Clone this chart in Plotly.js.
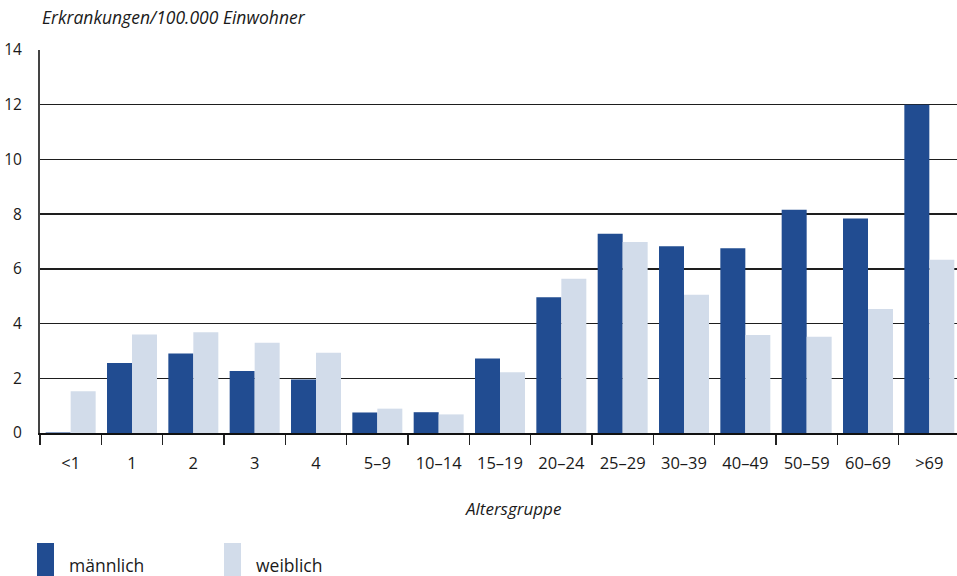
<!DOCTYPE html>
<html>
<head>
<meta charset="utf-8">
<script src="https://cdn.plot.ly/plotly-3.0.1.min.js"></script>
<style>
html,body{margin:0;padding:0;overflow:hidden;background:#fff;}
#chart{width:960px;height:576px;}
</style>
</head>
<body>
<div id="chart"></div>
<script>
const categories = ["<1","1","2","3","4","5–9","10–14","15–19","20–24","25–29","30–39","40–49","50–59","60–69",">69"];
const maennlich = [0.02,2.56,2.91,2.27,1.96,0.75,0.76,2.72,4.96,7.28,6.83,6.75,8.16,7.84,12.0];
const weiblich  = [1.53,3.60,3.68,3.30,2.93,0.89,0.68,2.22,5.64,6.98,5.05,3.58,3.52,4.53,6.33];
const yTicks = [0,2,4,6,8,10,12,14];
const seriesNames = ["männlich","weiblich"];
const colors = ["#214C91","#D2DCEA"];
const yTitle = "Erkrankungen/100.000 Einwohner";
const xTitle = "Altersgruppe";

const W = 960, H = 576, ML = 40, MR = 0, MT = 50, MB = 143;
const PW = W - ML - MR, PH = H - MT - MB;
const px = x => (x - ML) / PW;
const py = y => (H - MB - y) / PH;

const FONT = "Open Sans, DejaVu Sans, sans-serif";
const TXT = "#1a1a1a";

const traces = [
  {type:"bar", name:seriesNames[0], x:categories, y:maennlich, marker:{color:colors[0]}, hoverinfo:"skip"},
  {type:"bar", name:seriesNames[1], x:categories, y:weiblich, marker:{color:colors[1]}, hoverinfo:"skip"}
];

const layout = {
  width: W, height: H,
  margin: {l:ML, r:MR, t:MT, b:MB, pad:0},
  paper_bgcolor:"#fff", plot_bgcolor:"#fff",
  barmode:"group", bargap:0.185, bargroupgap:0,
  showlegend:false,
  font:{family:FONT, color:TXT, size:15},
  xaxis:{
    type:"category", tickson:"boundaries", ticks:"outside", ticklen:10, tickwidth:1.5, tickcolor:"#222",
    showline:true, linecolor:"#111", linewidth:2, showgrid:false, zeroline:false,
    tickfont:{family:FONT, size:16.5, color:TXT}, ticklabelstandoff:14,
    range:[-0.5, 14.5]
  },
  yaxis:{
    range:[0,14], tickvals:yTicks, ticktext:yTicks.map(String), ticks:"",
    showgrid:true, gridcolor:"#1e1e1e", gridwidth:1.4,
    showline:true, linecolor:"#444", linewidth:2, zeroline:false,
    tickfont:{family:FONT, size:15.5, color:TXT}, ticklabelstandoff:13
  },
  annotations:[
    {xref:"paper", yref:"paper", x:px(40), y:py(17), xanchor:"left", yanchor:"middle", text:"<i>"+yTitle+"</i>", showarrow:false, font:{family:FONT, size:17.5, color:TXT}},
    {xref:"paper", yref:"paper", x:px(513), y:py(508), xanchor:"center", yanchor:"middle", text:"<i>"+xTitle+"</i>", showarrow:false, font:{family:FONT, size:17, color:TXT}},
    {xref:"paper", yref:"paper", x:px(67), y:py(565), xanchor:"left", yanchor:"middle", text:seriesNames[0], showarrow:false, font:{family:FONT, size:17.5, color:TXT}},
    {xref:"paper", yref:"paper", x:px(254), y:py(565), xanchor:"left", yanchor:"middle", text:seriesNames[1], showarrow:false, font:{family:FONT, size:17.5, color:TXT}}
  ],
  shapes:[
    {type:"rect", xref:"paper", yref:"paper", x0:px(37), x1:px(54), y0:py(543), y1:py(580), fillcolor:colors[0], line:{width:0}},
    {type:"rect", xref:"paper", yref:"paper", x0:px(224), x1:px(241), y0:py(543), y1:py(580), fillcolor:colors[1], line:{width:0}}
  ]
};

Plotly.newPlot("chart", traces, layout, {displayModeBar:false, staticPlot:true});
</script>
</body>
</html>
